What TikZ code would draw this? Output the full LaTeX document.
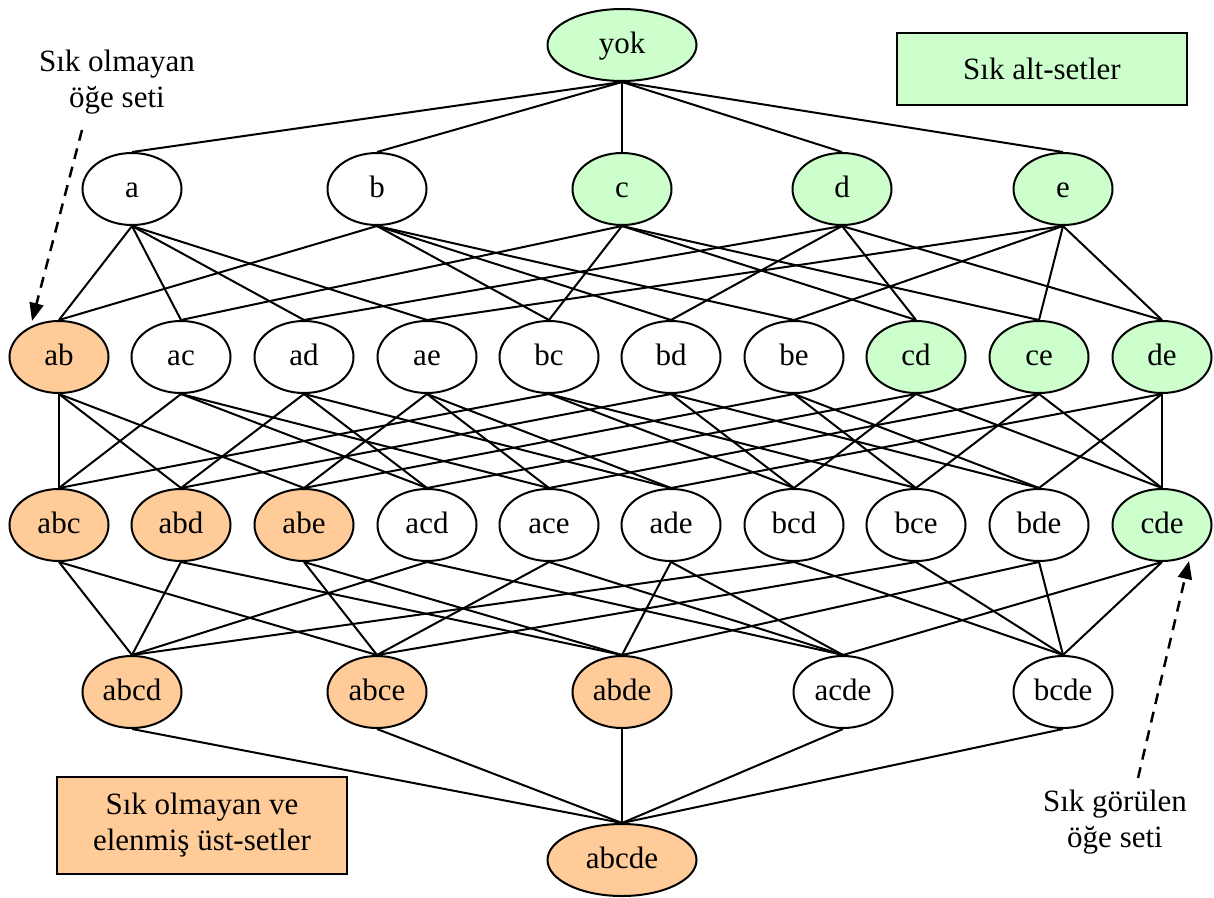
\documentclass[tikz,border=0pt]{standalone}
\usepackage{fontspec}
\setmainfont{Liberation Serif}
\usetikzlibrary{shapes.geometric,arrows.meta}
\definecolor{freqgreen}{HTML}{CCFFCC}
\definecolor{infreqorange}{HTML}{FFCC99}
\begin{document}
\begin{tikzpicture}[x=1pt,y=-1pt,
  every node/.style={font=\fontsize{31}{36}\selectfont},
  setnode/.style={ellipse,draw,line width=2pt,inner sep=0pt,
                  text height=20pt,text depth=4pt,
                  minimum width=99pt,minimum height=72pt},
  bignode/.style={setnode,minimum width=149pt,minimum height=72pt},
  freq/.style={fill=freqgreen},
  infreq/.style={fill=infreqorange},
  legendbox/.style={draw,line width=2pt,inner sep=0pt,align=center},
  link/.style={line width=2pt},
  pointer/.style={line width=2.5pt,dash pattern=on 11pt off 8pt,
                  -{Triangle[length=18pt,width=14pt]}}]
\useasboundingbox (0,0) rectangle (1214,897);

% top and bottom of the lattice
\node[bignode,freq]   (yok)   at (622,45)  {yok};
\node[bignode,infreq] (abcde) at (622,860) {abcde};

% 1-item sets
\node[setnode]      (a) at (132,189)  {a};
\node[setnode]      (b) at (377,189)  {b};
\node[setnode,freq] (c) at (622,189)  {c};
\node[setnode,freq] (d) at (842,189)  {d};
\node[setnode,freq] (e) at (1063,189) {e};

% 2-item sets
\node[setnode,infreq] (ab) at (59,357)   {ab};
\node[setnode]        (ac) at (181,357)  {ac};
\node[setnode]        (ad) at (304,357)  {ad};
\node[setnode]        (ae) at (427,357)  {ae};
\node[setnode]        (bc) at (549,357)  {bc};
\node[setnode]        (bd) at (671,357)  {bd};
\node[setnode]        (be) at (794,357)  {be};
\node[setnode,freq]   (cd) at (916,357)  {cd};
\node[setnode,freq]   (ce) at (1039,357) {ce};
\node[setnode,freq]   (de) at (1162,357) {de};

% 3-item sets
\node[setnode,infreq] (abc) at (59,525)   {abc};
\node[setnode,infreq] (abd) at (181,525)  {abd};
\node[setnode,infreq] (abe) at (304,525)  {abe};
\node[setnode]        (acd) at (427,525)  {acd};
\node[setnode]        (ace) at (549,525)  {ace};
\node[setnode]        (ade) at (671,525)  {ade};
\node[setnode]        (bcd) at (794,525)  {bcd};
\node[setnode]        (bce) at (916,525)  {bce};
\node[setnode]        (bde) at (1039,525) {bde};
\node[setnode,freq]   (cde) at (1162,525) {cde};

% 4-item sets
\node[setnode,infreq] (abcd) at (132,692)  {abcd};
\node[setnode,infreq] (abce) at (377,692)  {abce};
\node[setnode,infreq] (abde) at (622,692)  {abde};
\node[setnode]        (acde) at (843,692)  {acde};
\node[setnode]        (bcde) at (1063,692) {bcde};

% subset links, each from the smaller set down to the larger one
\foreach \u/\v in {yok/a,yok/b,yok/c,yok/d,yok/e,
  a/ab,a/ac,a/ad,a/ae, b/ab,b/bc,b/bd,b/be, c/ac,c/bc,c/cd,c/ce,
  d/ad,d/bd,d/cd,d/de, e/ae,e/be,e/ce,e/de,
  ab/abc,ab/abd,ab/abe, ac/abc,ac/acd,ac/ace, ad/abd,ad/acd,ad/ade,
  ae/abe,ae/ace,ae/ade, bc/abc,bc/bcd,bc/bce, bd/abd,bd/bcd,bd/bde,
  be/abe,be/bce,be/bde, cd/acd,cd/bcd,cd/cde, ce/ace,ce/bce,ce/cde,
  de/ade,de/bde,de/cde,
  abc/abcd,abc/abce, abd/abcd,abd/abde, abe/abce,abe/abde,
  acd/abcd,acd/acde, ace/abce,ace/acde, ade/abde,ade/acde,
  bcd/abcd,bcd/bcde, bce/abce,bce/bcde, bde/abde,bde/bcde,
  cde/acde,cde/bcde,
  abcd/abcde,abce/abcde,abde/abcde,acde/abcde,bcde/abcde}
  \draw[link] (\u.south) -- (\v.north);

% legend boxes
\node[legendbox,fill=freqgreen,minimum width=290pt,minimum height=72pt]
  (freqkey) at (1042,69) {Sık alt-setler};
\node[legendbox,fill=infreqorange,minimum width=290pt,minimum height=97pt]
  (infreqkey) at (202,825) {Sık olmayan ve\\elenmiş üst-setler};

% callouts
\node[align=center] (infreqlabel) at (117,82) {Sık olmayan\\öğe seti};
\node[align=center] (freqlabel) at (1115,822) {Sık görülen\\öğe seti};
\coordinate (infreqstart) at (82,130);
\coordinate (infreqtip)   at (32,321);
\coordinate (freqstart)   at (1138,778);
\coordinate (freqtip)     at (1189,561);
\draw[pointer] (infreqstart) -- (infreqtip);
\draw[pointer] (freqstart) -- (freqtip);
\end{tikzpicture}
\end{document}
